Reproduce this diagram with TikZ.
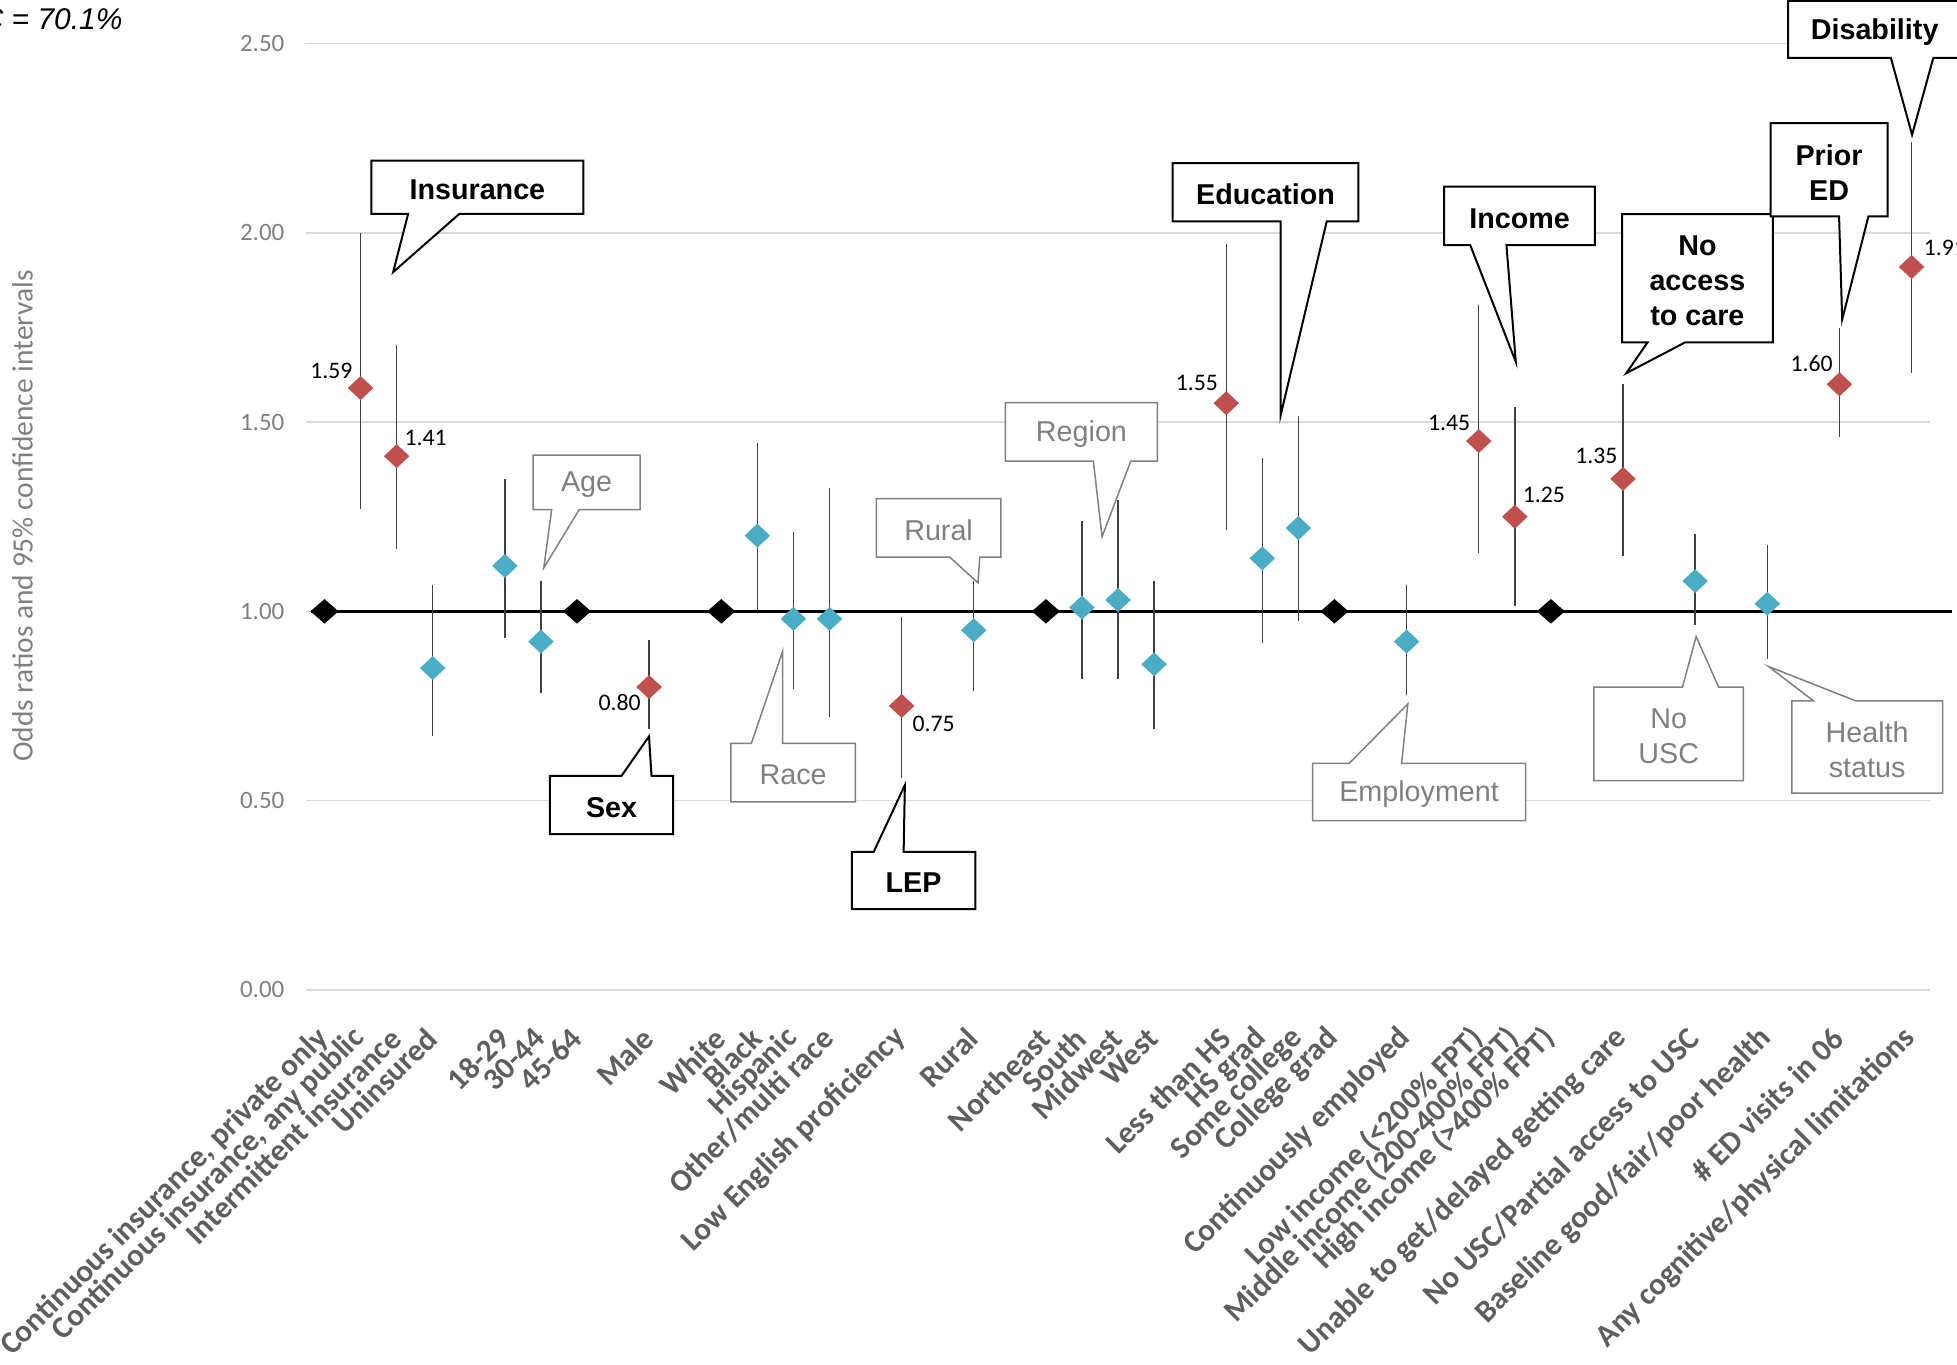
\documentclass[tikz,border=0pt]{standalone}
\usepackage{fontspec}
\setmainfont{Liberation Sans}
\newfontfamily\calfont{Carlito}
\usetikzlibrary{shapes.geometric}
\definecolor{orred}{HTML}{C0504D}
\definecolor{orblue}{HTML}{4BACC6}
\definecolor{gridgray}{HTML}{D9D9D9}
\definecolor{labgray}{HTML}{5E5E5E}
\definecolor{minorgray}{HTML}{808080}
\definecolor{cigray}{HTML}{404040}
% box outline with a wedge going down (or up) to a tip, then the text
\newcommand\calldown[6]{%
\draw[#1line] (#2.south west) -- (#3,0 |- #2.south) -- (#5) -- (#4,0 |- #2.south)
-- (#2.south east) -- (#2.north east) -- (#2.north west) -- cycle;
\node[#1text] (#2t) at (#2) {#6};}
\newcommand\callup[6]{%
\draw[#1line] (#2.north west) -- (#3,0 |- #2.north) -- (#5) -- (#4,0 |- #2.north)
-- (#2.north east) -- (#2.south east) -- (#2.south west) -- cycle;
\node[#1text] (#2t) at (#2) {#6};}
\begin{document}
\begin{tikzpicture}
[x=0.5pt, y=-0.5pt,
gridline/.style={gridgray, line width=0.6pt},
refline/.style={black, line width=1.4pt},
ciline/.style={cigray, line width=0.55pt},
ordot/.style={shape=diamond, inner sep=0pt, minimum width=10.4pt, minimum height=9.8pt},
refdot/.style={ordot, fill=black, minimum width=11.4pt, minimum height=10pt},
ticklab/.style={anchor=east, inner sep=0pt, text=minorgray, font=\calfont\fontsize{10}{12}\selectfont},
catlab/.style={anchor=east, rotate=45, inner sep=0pt, text=labgray, font=\calfont\bfseries\fontsize{12.5}{14}\selectfont},
vallab/.style={inner sep=0pt, font=\calfont\fontsize{9.5}{11}\selectfont},
boxarea/.style={shape=rectangle, inner sep=0pt},
keyline/.style={draw=black, line width=0.8pt, fill=white},
minorline/.style={draw=minorgray, line width=0.6pt, fill=white},
keytext/.style={font=\bfseries\fontsize{11.5}{14}\selectfont, align=center, inner sep=0pt, yshift=-1pt},
minortext/.style={font=\fontsize{11.5}{14}\selectfont, text=minorgray, align=center, inner sep=0pt, yshift=-1pt}]
\useasboundingbox (0,0) rectangle (1568,1093);
\node[anchor=base west, inner sep=0pt, font=\itshape\fontsize{12}{14}\selectfont] (auc) at (-15,24) {C = 70.1\%};
\node[rotate=90, text=minorgray, font=\calfont\fontsize{11.8}{14}\selectfont] (ytitle) at (18,413.5)
{Odds ratios and 95\% confidence intervals};
\begin{scope}[shift={(260,793)}, x=14.45pt, y=151.6pt]
\foreach \i/\t in {0/0.00,1/0.50,2/1.00,3/1.50,4/2.00,5/2.50}{
\draw[gridline] (-0.5,\i/2) -- (44.5,\i/2);
\node[ticklab] (tick\i) at (-1.1,\i/2) {\t};
}
\coordinate (refL) at (-0.38,1);
\coordinate (refR) at (45.12,1);
\draw[refline] (refL) -- (refR);
\foreach \k/\v/\lo/\hi/\c in {
1/1.59/1.27/2.00/orred, 2/1.41/1.165/1.705/orred, 3/0.85/0.67/1.07/orblue,
5/1.12/0.93/1.35/orblue, 6/0.92/0.785/1.08/orblue, 9/0.80/0.69/0.925/orred,
12/1.20/1.00/1.445/orblue, 13/0.98/0.795/1.21/orblue, 14/0.98/0.72/1.325/orblue,
16/0.75/0.56/0.985/orred, 18/0.95/0.79/1.08/orblue,
21/1.01/0.82/1.24/orblue, 22/1.03/0.82/1.295/orblue, 23/0.86/0.69/1.08/orblue,
25/1.55/1.215/1.97/orred, 26/1.14/0.915/1.405/orblue, 27/1.22/0.975/1.515/orblue,
30/0.92/0.78/1.07/orblue, 32/1.45/1.155/1.81/orred, 33/1.25/1.015/1.54/orred,
36/1.35/1.145/1.60/orred, 38/1.08/0.965/1.205/orblue, 40/1.02/0.875/1.175/orblue,
42/1.60/1.46/1.75/orred, 44/1.91/1.63/2.24/orred}{
\coordinate (lo\k) at (\k,\lo);
\coordinate (hi\k) at (\k,\hi);
\draw[ciline] (lo\k) -- (hi\k);
\node[ordot, fill=\c] (p\k) at (\k,\v) {};
}
\foreach \k in {0,7,11,20,28,34}
\node[refdot] (r\k) at (\k,1) {};
\foreach \k/\t in {0/{Continuous insurance, private only}, 1/{Continuous insurance, any public},
2/{Intermittent insurance}, 3/{Uninsured}, 5/{18-29}, 6/{30-44}, 7/{45-64}, 9/{Male},
11/{White}, 12/{Black}, 13/{Hispanic}, 14/{Other/multi race}, 16/{Low English proficiency},
18/{Rural}, 20/{Northeast}, 21/{South}, 22/{Midwest}, 23/{West},
25/{Less than HS}, 26/{HS grad}, 27/{Some college}, 28/{College grad},
30/{Continuously employed}, 32/{Low income (<200\% FPT)}, 33/{Middle income (200-400\% FPT)},
34/{High income (>400\% FPT)}, 36/{Unable to get/delayed getting care},
38/{No USC/Partial access to USC}, 40/{Baseline good/fair/poor health},
42/{\# ED visits in 06}, 44/{Any cognitive/physical limitations}}
\node[catlab] (c\k) at ({\k-0.02},-0.115) {\t};
\end{scope}
\foreach \n/\x/\y/\t in {l1/265.5/297.5/1.59, l2/341/351/1.41, l9/496.5/563/0.80,
l16/748/580/0.75, l25/959/307/1.55, l32/1161/339/1.45, l33/1237/396.5/1.25,
l36/1279/365.5/1.35, l42/1451.5/291/1.60}
\node[vallab] (\n) at (\x,\y) {\t};
\node[vallab, anchor=west] (l44) at (1541,199) {1.91};
% pointer tips
\coordinate (insTip) at (315,218);
\coordinate (sexTip) at (520,590);
\coordinate (lepTip) at (725,629);
\coordinate (eduTip) at (1026,333);
\coordinate (incTip) at (1214.5,290);
\coordinate (naTip) at (1303,299);
\coordinate (priTip) at (1476,256);
\coordinate (disTip) at (1532,108);
\coordinate (ageTip) at (435.7,455);
\coordinate (raceTip) at (627,522);
\coordinate (rurTip) at (783.6,467);
\coordinate (regTip) at (883,430);
\coordinate (empTip) at (1128,564);
\coordinate (uscTip) at (1359,510);
\coordinate (hsTip) at (1417,534);
% boxes
\node[boxarea, minimum width=84.5pt, minimum height=21pt] (ins) at (382.5,150) {};
\node[boxarea, minimum width=49pt, minimum height=23pt] (sex) at (490,645) {};
\node[boxarea, minimum width=49pt, minimum height=22.5pt] (lep) at (732,705.5) {};
\node[boxarea, minimum width=74pt, minimum height=23pt] (edu) at (1014,154) {};
\node[boxarea, minimum width=60pt, minimum height=23pt] (inc) at (1217.5,173) {};
\node[boxarea, minimum width=60pt, minimum height=51pt] (na) at (1360,223) {};
\node[boxarea, minimum width=46.5pt, minimum height=37pt] (pri) at (1465.5,136) {};
\node[boxarea, minimum width=69pt, minimum height=22.5pt] (dis) at (1502,23.5) {};
\node[boxarea, minimum width=42.5pt, minimum height=21.5pt] (age) at (470,386.5) {};
\node[boxarea, minimum width=49.5pt, minimum height=23pt] (race) at (635.5,619) {};
\node[boxarea, minimum width=49.5pt, minimum height=23pt] (rur) at (752,423) {};
\node[boxarea, minimum width=60.5pt, minimum height=23pt] (reg) at (866.5,346) {};
\node[boxarea, minimum width=85pt, minimum height=22.5pt] (emp) at (1137,634.5) {};
\node[boxarea, minimum width=59.5pt, minimum height=37pt] (usc) at (1337,588) {};
\node[boxarea, minimum width=60pt, minimum height=36.5pt] (hs) at (1496,598.5) {};
\calldown{key}{ins}{327}{368}{insTip}{Insurance}
\callup{key}{sex}{498}{522}{sexTip}{Sex}
\callup{key}{lep}{700}{724}{lepTip}{LEP}
\calldown{key}{edu}{1026}{1063}{eduTip}{Education}
\calldown{key}{inc}{1178}{1207}{incTip}{Income}
\calldown{key}{na}{1320}{1350}{naTip}{No\\access\\to care}
\calldown{key}{pri}{1473.5}{1497}{priTip}{Prior\\ED}
\calldown{key}{dis}{1515}{1549}{disTip}{Disability}
\calldown{minor}{age}{442}{464}{ageTip}{Age}
\callup{minor}{race}{602}{627}{raceTip}{Race}
\calldown{minor}{rur}{761}{785}{rurTip}{Rural}
\calldown{minor}{reg}{876}{906}{regTip}{Region}
\callup{minor}{emp}{1081}{1123}{empTip}{Employment}
\callup{minor}{usc}{1348}{1377}{uscTip}{No\\USC}
\callup{minor}{hs}{1453}{1487}{hsTip}{Health\\status}
%\draw[step=50, very thin, red] (0,0) grid (1568,1093);
\end{tikzpicture}
\end{document}
